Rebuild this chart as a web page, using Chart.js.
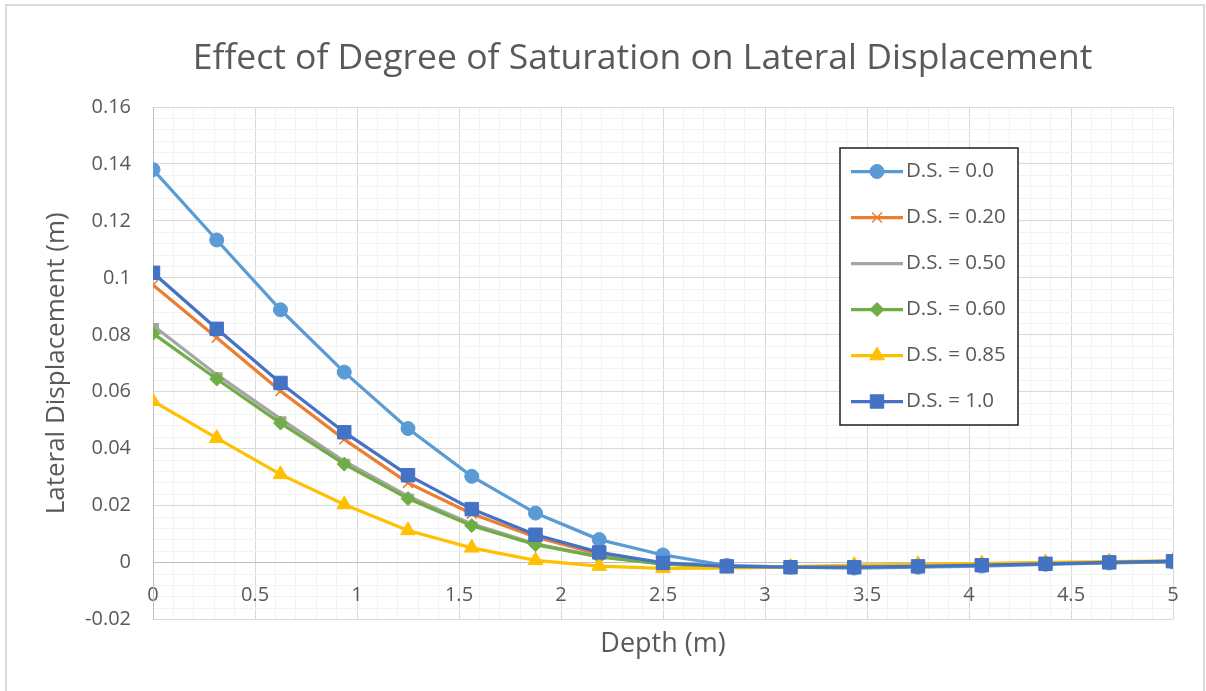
<!DOCTYPE html>
<html>
<head>
<meta charset="utf-8">
<script src="https://cdn.jsdelivr.net/npm/chart.js@4.4.1/dist/chart.umd.min.js"></script>
<style>
  html, body { margin: 0; padding: 0; background: #ffffff; }
  #wrap { position: relative; width: 1206px; height: 691px; overflow: hidden; background: #ffffff; }
  #c { position: absolute; left: 0; top: 0; }
  #frame { position: absolute; left: 5px; top: 4px; width: 1200px; height: 720px; border: 2px solid #d9d9d9; box-sizing: border-box; pointer-events: none; }
</style>
</head>
<body>
<div id="wrap">
  <canvas id="c" width="1206" height="691"></canvas>
  <div id="frame"></div>
</div>
<script>
// ---------------- DATA ----------------
const chartTitle = 'Effect of Degree of Saturation on Lateral Displacement';
const xTitle = 'Depth (m)';
const yTitle = 'Lateral Displacement (m)';

const depth = [0, 0.3125, 0.625, 0.9375, 1.25, 1.5625, 1.875, 2.1875, 2.5, 2.8125, 3.125, 3.4375, 3.75, 4.0625, 4.375, 4.6875, 5];

const seriesLabels = ['D.S. = 0.0', 'D.S. = 0.20', 'D.S. = 0.50', 'D.S. = 0.60', 'D.S. = 0.85', 'D.S. = 1.0'];

const ds00  = [0.1380, 0.1133, 0.0888, 0.0669, 0.0471, 0.0303, 0.0174, 0.0081, 0.0027, -0.0010, -0.0016, -0.0019, -0.0016, -0.0012, -0.0006, -0.0001, 0.0003];
const ds20  = [0.0975, 0.0790, 0.0603, 0.0433, 0.0280, 0.0172, 0.0090, 0.0030, -0.0004, -0.0014, -0.0015, -0.0014, -0.0012, -0.0008, -0.0003, 0.0001, 0.0004];
const ds50  = [0.0833, 0.0660, 0.0505, 0.0356, 0.0233, 0.0136, 0.0066, 0.0022, -0.0004, -0.0013, -0.0014, -0.0013, -0.0011, -0.0007, -0.0003, 0.0001, 0.0004];
const ds60  = [0.0805, 0.0645, 0.0490, 0.0346, 0.0225, 0.0130, 0.0063, 0.0020, -0.0005, -0.0013, -0.0014, -0.0013, -0.0011, -0.0007, -0.0003, 0.0001, 0.0004];
const ds85  = [0.0567, 0.0437, 0.0310, 0.0204, 0.0113, 0.0052, 0.0008, -0.0012, -0.0020, -0.0019, -0.0015, -0.0009, -0.0006, -0.0003, 0.0001, 0.0004, 0.0006];
const ds100 = [0.1018, 0.0821, 0.0631, 0.0458, 0.0307, 0.0188, 0.0098, 0.0036, -0.0001, -0.0013, -0.0016, -0.0016, -0.0013, -0.0009, -0.0004, 0.0001, 0.0005];

const xMajorTicks = [0, 0.5, 1, 1.5, 2, 2.5, 3, 3.5, 4, 4.5, 5];
const xTickLabels = ['0', '0.5', '1', '1.5', '2', '2.5', '3', '3.5', '4', '4.5', '5'];
const yMajorTicks = [-0.02, 0, 0.02, 0.04, 0.06, 0.08, 0.1, 0.12, 0.14, 0.16];
const yTickLabels = ['-0.02', '0', '0.02', '0.04', '0.06', '0.08', '0.1', '0.12', '0.14', '0.16'];
const minorDivisions = 5;

// ---------------- STYLE ----------------
const FONT = "'Open Sans', 'Noto Sans', sans-serif";
const TEXT = '#595959';
const seriesValues = [ds00, ds20, ds50, ds60, ds85, ds100];
const seriesStyles = [
  { color: '#5B9BD5', pointStyle: 'circle',   radius: 7,   pointBorderWidth: 1 },
  { color: '#ED7D31', pointStyle: 'crossRot', radius: 7,   pointBorderWidth: 1.5 },
  { color: '#A5A5A5', pointStyle: 'line',     radius: 6,   pointBorderWidth: 5 },
  { color: '#70AD47', pointStyle: 'rectRot',  radius: 7,   pointBorderWidth: 1 },
  { color: '#FFC000', pointStyle: 'triangle', radius: 8.5, pointBorderWidth: 1 },
  { color: '#4472C4', pointStyle: 'rect',     radius: 9.5, pointBorderWidth: 1 }
];

function subdivide(majors, n) {
  const out = [];
  for (let i = 0; i < majors.length - 1; i++) {
    for (let k = 0; k < n; k++) {
      out.push(+(majors[i] + (majors[i + 1] - majors[i]) * k / n).toFixed(6));
    }
  }
  out.push(majors[majors.length - 1]);
  return out;
}
const xAllTicks = subdivide(xMajorTicks, minorDivisions);
const yAllTicks = subdivide(yMajorTicks, minorDivisions);
const majorIndex = (majors, v) => majors.findIndex(m => Math.abs(m - v) < 1e-7);
const gridColor = (majors) => (c) => (c.tick && majorIndex(majors, c.tick.value) >= 0) ? '#d9d9d9' : '#f2f2f2';

const datasets = seriesValues.map((vals, i) => {
  const s = seriesStyles[i];
  return {
    label: seriesLabels[i],
    data: depth.map((x, j) => ({ x: x, y: vals[j] })),
    borderColor: s.color,
    backgroundColor: s.color,
    borderWidth: 3.25,
    tension: 0,
    pointStyle: s.pointStyle,
    pointRadius: s.radius,
    pointHoverRadius: s.radius,
    pointBorderWidth: s.pointBorderWidth,
    pointBorderColor: s.color,
    pointBackgroundColor: s.color,
    order: seriesValues.length - i
  };
});

// custom title drawn centred over the whole chart box
const titlePlugin = {
  id: 'excelTitle',
  afterDraw(chart) {
    const ctx = chart.ctx;
    ctx.save();
    ctx.font = '35.5px ' + FONT;
    ctx.fillStyle = TEXT;
    ctx.textAlign = 'center';
    ctx.textBaseline = 'middle';
    ctx.fillText(chartTitle, 642.5, 59);
    ctx.restore();
  }
};

// boxed legend inside the plot area
const legendPlugin = {
  id: 'boxLegend',
  afterDraw(chart) {
    const ctx = chart.ctx;
    const L = 840, T = 148, W = 178, H = 277;
    ctx.save();
    ctx.fillStyle = '#ffffff';
    ctx.fillRect(L, T, W, H);
    ctx.lineWidth = 1.5;
    ctx.strokeStyle = '#1f1f1f';
    ctx.strokeRect(L, T, W, H);
    const rowTop = 171.5, rowStep = 46;
    chart.data.datasets.forEach((ds, i) => {
      const y = rowTop + i * rowStep;
      ctx.strokeStyle = ds.borderColor;
      ctx.lineWidth = 3.25;
      ctx.beginPath();
      ctx.moveTo(851, y);
      ctx.lineTo(903, y);
      ctx.stroke();
      if (ds.pointStyle !== 'line') {
        ctx.fillStyle = ds.pointBackgroundColor;
        ctx.strokeStyle = ds.pointBorderColor;
        ctx.lineWidth = ds.pointBorderWidth;
        Chart.helpers.drawPoint(ctx, { pointStyle: ds.pointStyle, radius: ds.pointRadius, borderWidth: ds.pointBorderWidth, rotation: 0 }, 877, y);
      }
      ctx.fillStyle = TEXT;
      ctx.font = '20.5px ' + FONT;
      ctx.textAlign = 'left';
      ctx.textBaseline = 'middle';
      ctx.fillText(ds.label, 906, y);
    });
    ctx.restore();
  }
};

new Chart(document.getElementById('c'), {
  type: 'line',
  data: { datasets: datasets },
  plugins: [titlePlugin, legendPlugin],
  options: {
    responsive: false,
    animation: false,
    layout: { padding: { top: 107, left: 20, right: 33, bottom: 10 } },
    plugins: {
      legend: { display: false },
      tooltip: { enabled: false },
      title: { display: false },
      subtitle: {
        display: true, text: xTitle, position: 'bottom', fullSize: false,
        color: TEXT, font: { family: FONT, size: 27, weight: 'normal' },
        padding: { top: 9, bottom: 20 }
      }
    },
    scales: {
      x: {
        type: 'linear', min: 0, max: 5,
        position: { y: 0 },
        afterBuildTicks: (s) => { s.ticks = xAllTicks.map(v => ({ value: v })); },
        ticks: {
          autoSkip: false, maxRotation: 0, padding: 21,
          color: TEXT, font: { family: FONT, size: 20 },
          callback: (v) => { const i = majorIndex(xMajorTicks, v); return i >= 0 ? xTickLabels[i] : ''; }
        },
        grid: { drawTicks: false, color: gridColor(xMajorTicks), lineWidth: 1 },
        border: { color: '#bfbfbf', width: 1 }
      },
      y: {
        type: 'linear', min: -0.02, max: 0.16,
        afterBuildTicks: (s) => { s.ticks = yAllTicks.map(v => ({ value: v })); },
        afterFit: (s) => { s.width = 133; },
        ticks: {
          autoSkip: false, padding: 22,
          color: TEXT, font: { family: FONT, size: 20 },
          callback: (v) => { const i = majorIndex(yMajorTicks, v); return i >= 0 ? yTickLabels[i] : ''; }
        },
        grid: { drawTicks: false, color: gridColor(yMajorTicks), lineWidth: 1 },
        border: { color: '#bfbfbf', width: 1 },
        title: {
          display: true, text: yTitle, color: TEXT,
          font: { family: FONT, size: 26 }, padding: { top: 21, bottom: 0 }
        }
      }
    }
  }
});
</script>
</body>
</html>
